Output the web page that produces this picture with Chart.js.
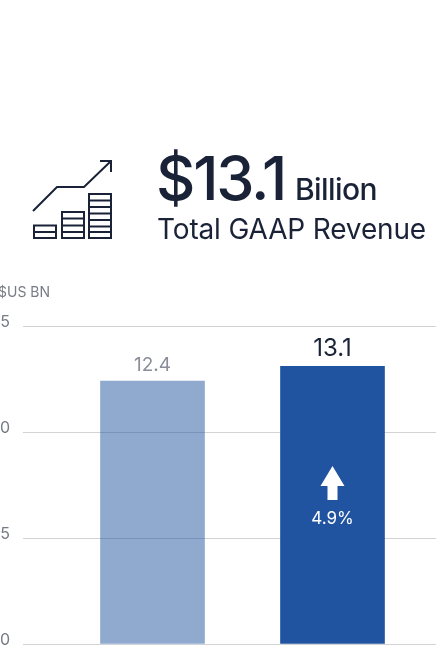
<!DOCTYPE html>
<html>
<head>
<meta charset="utf-8">
<script src="https://cdn.jsdelivr.net/npm/chart.js@4"></script>
<style>
  html, body { margin:0; padding:0; background:#fff; overflow:hidden; }
  #wrap { position:relative; width:436px; height:645px; overflow:hidden; font-family:Inter, sans-serif; color:#1a2238; }
  #chart { position:absolute; left:0; top:0; }
  .txt { position:absolute; white-space:nowrap; line-height:1; }
  #icon { position:absolute; left:0; top:0; }
</style>
</head>
<body>
<div id="wrap">
  <canvas id="chart" width="436" height="645"></canvas>
  <svg id="icon" width="436" height="260" fill="none" stroke="#1a2238" stroke-width="2">
    <path d="M33 211 L57 187 L84 187 L111 161 M100 161 L111 161 L111 172"/>
    <path d="M34 225.500 H56 V238 H34 Z M34 232 H56"/>
    <path d="M62 212 H84 V238 H62 Z M62 218.500 H84 M62 225.500 H84 M62 232 H84"/>
    <path d="M89 194 H111 V238 H89 Z M89 200.500 H111 M89 207 H111 M89 213.500 H111 M89 220 H111 M89 226.500 H111 M89 232 H111"/>
  </svg>
  <div class="txt" style="left:156px;top:148px;font-size:61px;font-weight:500;letter-spacing:-2.200px;">$13.1</div>
  <div class="txt" style="left:295px;top:174px;font-size:30px;font-weight:500;letter-spacing:-0.600px;">Billion</div>
  <div class="txt" style="left:157px;top:215px;font-size:28px;font-weight:400;letter-spacing:-0.150px;">Total GAAP Revenue</div>
  <div class="txt" style="left:-2px;top:285px;font-size:14px;color:#777b85;">$US BN</div>
</div>
<script>
const periods = [0, 1];
const revenue = [12.4, 13.1];
const tickValues = [0, 5, 10, 15];
const changeLabels = ['', '4.9%'];
const barColors = ['rgba(32, 83, 160, 0.5)', '#2053a0'];
const valueColors = ['#8a8e99', '#1a2238'];
const valueFonts = ['19px Inter', '24px Inter'];

// value labels above the bars, change arrow inside the current one
const barNotes = {
    id: 'barNotes',
    afterDatasetsDraw(chart) {
        const ctx = chart.ctx;
        const bars = chart.getDatasetMeta(0).data;
        const zero = chart.scales.y.getPixelForValue(0);
        ctx.save();
        ctx.textAlign = 'center';
        bars.forEach((bar, i) => {
            ctx.fillStyle = valueColors[i];
            ctx.font = valueFonts[i];
            ctx.textBaseline = 'alphabetic';
            ctx.fillText(revenue[i].toFixed(1), bar.x, bar.y - 10);

            if (!changeLabels[i]) return;
            ctx.fillStyle = '#fff';
            ctx.beginPath();
            ctx.moveTo(bar.x, zero - 178);
            ctx.lineTo(bar.x + 12, zero - 158);
            ctx.lineTo(bar.x + 5, zero - 158);
            ctx.lineTo(bar.x + 5, zero - 144);
            ctx.lineTo(bar.x - 5, zero - 144);
            ctx.lineTo(bar.x - 5, zero - 158);
            ctx.lineTo(bar.x - 12, zero - 158);
            ctx.closePath();
            ctx.fill();
            ctx.font = '17px Inter';
            ctx.fillText(changeLabels[i], bar.x, zero - 120);
        });
        ctx.restore();
    }
};

new Chart(document.getElementById('chart'), {
    type: 'bar',
    data: {
        datasets: [{
            data: periods.map((p, i) => ({ x: p, y: revenue[i] })),
            backgroundColor: barColors,
            barThickness: 104,
            borderWidth: 0
        }]
    },
    plugins: [barNotes],
    options: {
        responsive: false,
        animation: false,
        layout: { padding: { top: 326, bottom: 1, left: 0, right: 0 } },
        plugins: { legend: { display: false }, tooltip: { enabled: false } },
        scales: {
            x: {
                type: 'linear',
                display: false,
                offset: false,
                min: -0.7194,
                max: 1.575
            },
            y: {
                min: 0,
                max: 15,
                afterFit: scale => {
                    scale.width = 23;
                    scale.paddingTop = 0;
                    scale.paddingBottom = 0;
                },
                afterBuildTicks: scale => { scale.ticks = tickValues.map(v => ({ value: v })); },
                border: { display: false },
                grid: { color: '#d2d3d6', lineWidth: 1, drawTicks: false },
                ticks: {
                    color: '#777b85',
                    font: { family: 'Inter', size: 16 },
                    padding: 13,
                    labelOffset: -4
                }
            }
        }
    }
});
</script>
</body>
</html>
